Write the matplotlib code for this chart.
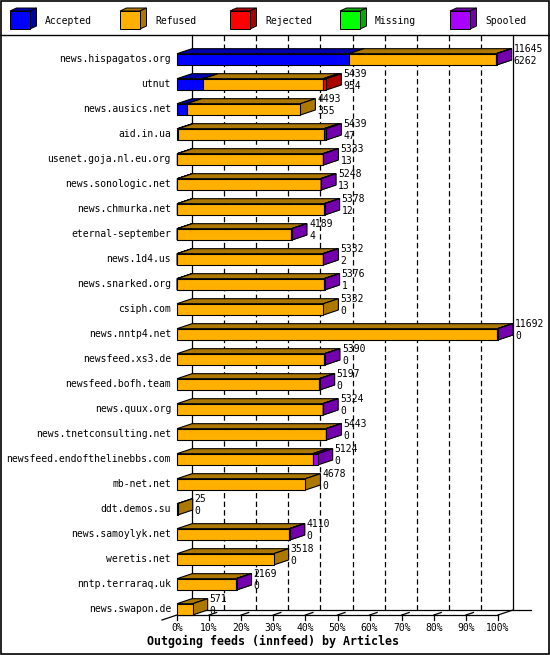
import numpy as np
import matplotlib
matplotlib.use('Agg')
import matplotlib.pyplot as plt
from matplotlib.patches import Polygon, Rectangle

hosts = ['news.hispagatos.org', 'utnut', 'news.ausics.net', 'aid.in.ua',
         'usenet.goja.nl.eu.org', 'news.sonologic.net', 'news.chmurka.net',
         'eternal-september', 'news.1d4.us', 'news.snarked.org', 'csiph.com',
         'news.nntp4.net', 'newsfeed.xs3.de', 'newsfeed.bofh.team',
         'news.quux.org', 'news.tnetconsulting.net',
         'newsfeed.endofthelinebbs.com', 'mb-net.net', 'ddt.demos.su',
         'news.samoylyk.net', 'weretis.net', 'nntp.terraraq.uk',
         'news.swapon.de']
offered = [11645, 5439, 4493, 5439, 5333, 5248, 5378, 4189, 5332, 5376, 5332,
           11692, 5390, 5197, 5324, 5443, 5124, 4678, 25, 4110, 3518, 2169, 571]
accepted = [6262, 954, 355, 47, 13, 13, 12, 4, 2, 1, 0,
            0, 0, 0, 0, 0, 0, 0, 0, 0, 0, 0, 0]
refused = [5363, 4375, 4138, 5307, 5300, 5215, 5346, 4165, 5310, 5355, 5332,
           11672, 5370, 5177, 5304, 5423, 4944, 4678, 25, 4090, 3518, 2149, 571]
rejected = [0, 110, 0, 70, 0, 0, 0, 0, 0, 0, 0,
            0, 0, 0, 0, 0, 0, 0, 0, 0, 0, 0, 0]
missing = [0] * 23
spooled = [20, 0, 0, 15, 20, 20, 20, 20, 20, 20, 0,
           20, 20, 20, 20, 20, 180, 0, 0, 20, 0, 20, 0]

series = ['Accepted', 'Refused', 'Rejected', 'Missing', 'Spooled']
colors = ['#0000ff', '#ffb000', '#ff0000', '#00ff00', '#aa00ff']
ticks = list(range(0, 101, 10))


def dark(c, f=0.68):
    r, g, b = matplotlib.colors.to_rgb(c)
    return (r * f, g * f, b * f)


mono = 'DejaVu Sans Mono'
W, H = 550, 655
fig = plt.figure(figsize=(W / 100, H / 100), dpi=100)

# pixel overlay for frame and legend
bg = fig.add_axes([0, 0, 1, 1])
bg.set_xlim(0, W)
bg.set_ylim(H, 0)
bg.axis('off')
bg.add_patch(Rectangle((0.5, 0.5), W - 1.5, H - 1.5, fill=False, lw=1.2, ec='black'))
bg.plot([0, W], [35, 35], color='black', lw=1.0)

for k, (name, c) in enumerate(zip(series, colors)):
    x0 = 10 + 110 * k
    fw, fh, ddx, ddy = 20, 18, 6.5, 3
    y0 = 11
    bg.add_patch(Polygon([(x0, y0), (x0 + ddx, y0 - ddy), (x0 + fw + ddx, y0 - ddy),
                          (x0 + fw, y0)], closed=True, fc=dark(c), ec='black', lw=0.7))
    bg.add_patch(Polygon([(x0 + fw, y0), (x0 + fw + ddx, y0 - ddy),
                          (x0 + fw + ddx, y0 + fh - ddy), (x0 + fw, y0 + fh)],
                         closed=True, fc=dark(c), ec='black', lw=0.7))
    bg.add_patch(Rectangle((x0, y0), fw, fh, fc=c, ec='black', lw=0.7))
    bg.text(x0 + 35, 20.5, name, family=mono, fontsize=7, va='center', ha='left')

# data axes
n = len(hosts)
xmax = max(offered)
row_px = 25
h = 0.452
top_px, bot_px = 35, 615
left_px, right_px = 177, 498
ax = fig.add_axes([left_px / W, 1 - bot_px / H, (right_px - left_px) / W,
                   (bot_px - top_px) / H])
ybot = n - 1 + h / 2
ax.set_ylim(ybot, ybot - (bot_px - top_px) / row_px)
ax.set_xlim(0, xmax)
ax.axis('off')
dx = 15 * xmax / (right_px - left_px)
dy = 5 / row_px
ytop = ybot - (bot_px - top_px) / row_px

# back wall
for t in ticks:
    xb = t * xmax / 100 + dx
    ls = '-' if t in (0, 100) else (0, (4.3, 2.6))
    ax.plot([xb, xb], [ybot - dy, ytop], color='black', lw=0.9, ls=ls,
            clip_on=False, zorder=1)

# floor
ax.plot([0, xmax], [ybot, ybot], color='black', lw=0.9, clip_on=False, zorder=1)
ax.plot([dx, xmax + dx * 2.2], [ybot - dy, ybot - dy], color='black', lw=0.9,
        clip_on=False, zorder=1)
ax.plot([-dx, dx], [ybot + dy, ybot - dy], color='black', lw=0.9, clip_on=False, zorder=1)
ax.plot([xmax, xmax + dx], [ybot, ybot - dy], color='black', lw=0.9, clip_on=False, zorder=1)
for t in ticks:
    xf = t * xmax / 100
    ax.plot([xf, xf], [ybot, ybot + 5 / row_px], color='black', lw=0.9, clip_on=False)
    if 0 < t < 100:
        ax.plot([xf, xf + dx * 0.5], [ybot, ybot - dy * 0.5], color='black', lw=0.9,
                clip_on=False)
    ax.text(xf, ybot + 13 / row_px, '%d%%' % t, family=mono, fontsize=7,
            ha='center', va='center')

ax.text(xmax * 0.3, ybot + 26 / row_px, 'Outgoing feeds (innfeed) by Articles',
        family=mono, fontsize=8.4, fontweight='bold', ha='center', va='center')

# bars
data = [accepted, refused, rejected, missing, spooled]
for i in range(n):
    yt, yb = i - h / 2, i + h / 2
    x0 = 0
    for vals, c in zip(data, colors):
        v = vals[i]
        if v <= 0:
            continue
        x1 = x0 + v
        kw = dict(closed=True, ec='black', lw=0.8, clip_on=False, zorder=3,
                  joinstyle='miter')
        ax.add_patch(Polygon([(x0, yt), (x1, yt), (x1 + dx, yt - dy), (x0 + dx, yt - dy)],
                             fc=dark(c), **kw))
        ax.add_patch(Polygon([(x1, yt), (x1 + dx, yt - dy), (x1 + dx, yb - dy), (x1, yb)],
                             fc=dark(c), **kw))
        ax.add_patch(Polygon([(x0, yt), (x1, yt), (x1, yb), (x0, yb)], fc=c, **kw))
        x0 = x1
    xl = offered[i] + dx + 2 * xmax / (right_px - left_px)
    ax.text(xl, i - 0.41, str(offered[i]), family=mono, fontsize=7, ha='left',
            va='center', zorder=4, clip_on=False)
    ax.text(xl, i + 0.07, str(accepted[i]), family=mono, fontsize=7, ha='left',
            va='center', zorder=4, clip_on=False)
    ax.text(-6 * xmax / (right_px - left_px), i, hosts[i], family=mono, fontsize=7,
            ha='right', va='center')

fig.savefig('out.png', dpi=100)
